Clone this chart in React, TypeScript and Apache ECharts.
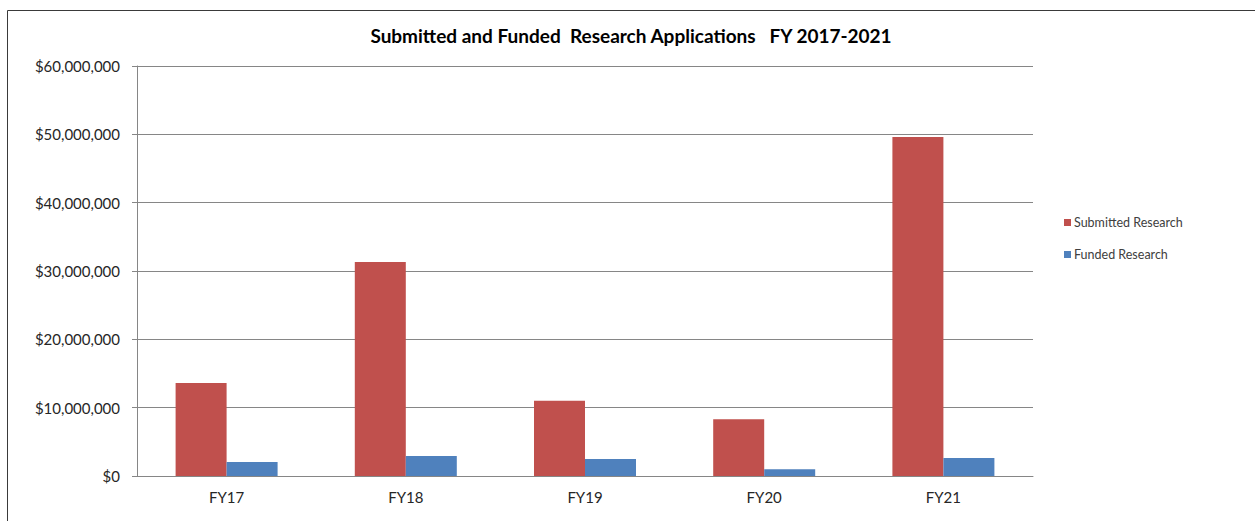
import React, { useEffect, useRef } from "react";
import * as echarts from "echarts";

const categories = ["FY17", "FY18", "FY19", "FY20", "FY21"];
const submitted = [13600000, 31300000, 11000000, 8300000, 49600000];
const funded = [2050000, 2930000, 2500000, 980000, 2630000];
const titleText = "Submitted and Funded  Research Applications   FY 2017-2021";

export default function App() {
  const ref = useRef<HTMLDivElement>(null);
  useEffect(() => {
    document.body.style.margin = "0";
    const chart = echarts.init(ref.current!, null, { renderer: "svg" });
    const font = "Lato, 'Open Sans', sans-serif";
    chart.setOption({
      animation: false,
      backgroundColor: "#ffffff",
      textStyle: { fontFamily: font },
      title: {
        text: titleText,
        left: 626,
        textAlign: "center",
        top: 21,
        textStyle: { fontSize: 19, fontWeight: "bold", color: "#000", fontFamily: font },
      },
      graphic: [
        {
          type: "rect",
          shape: { x: 7.5, y: 10.5, width: 1400, height: 700 },
          style: { fill: "none", stroke: "#3a3a3a", lineWidth: 1 },
          silent: true,
          z: -1,
        },
      ],
      legend: {
        orient: "vertical",
        left: 1059,
        top: 211,
        itemWidth: 7,
        itemHeight: 7,
        itemGap: 19,
        icon: "rect",
        textStyle: { fontSize: 12.5, color: "#404040", fontFamily: font, padding: [0, 0, 0, -2] },
        data: ["Submitted Research", "Funded Research"],
      },
      grid: { left: 137, top: 66, right: 222, bottom: 45, containLabel: false },
      xAxis: {
        type: "category",
        data: categories,
        axisLine: { lineStyle: { color: "#868686", width: 1 } },
        axisTick: { show: false },
        axisLabel: { fontSize: 15, color: "#262626", margin: 13, fontFamily: font },
      },
      yAxis: {
        type: "value",
        min: 0,
        max: 60000000,
        interval: 10000000,
        axisLine: { show: true, lineStyle: { color: "#868686", width: 1 } },
        axisTick: { show: true, length: 5, lineStyle: { color: "#868686" } },
        splitLine: { lineStyle: { color: "#868686", width: 1 } },
        axisLabel: {
          fontSize: 15,
          color: "#262626",
          margin: 17,
          fontFamily: font,
          formatter: (v: number) => "$" + v.toLocaleString("en-US"),
        },
      },
      series: [
        {
          name: "Submitted Research",
          type: "bar",
          data: submitted,
          barWidth: 51,
          barGap: "0%",
          itemStyle: { color: "#C0504D" },
        },
        {
          name: "Funded Research",
          type: "bar",
          data: funded,
          barWidth: 51,
          barGap: "0%",
          itemStyle: { color: "#4F81BD" },
        },
      ],
    });
    return () => chart.dispose();
  }, []);
  return <div ref={ref} style={{ width: 1255, height: 521 }} />;
}
